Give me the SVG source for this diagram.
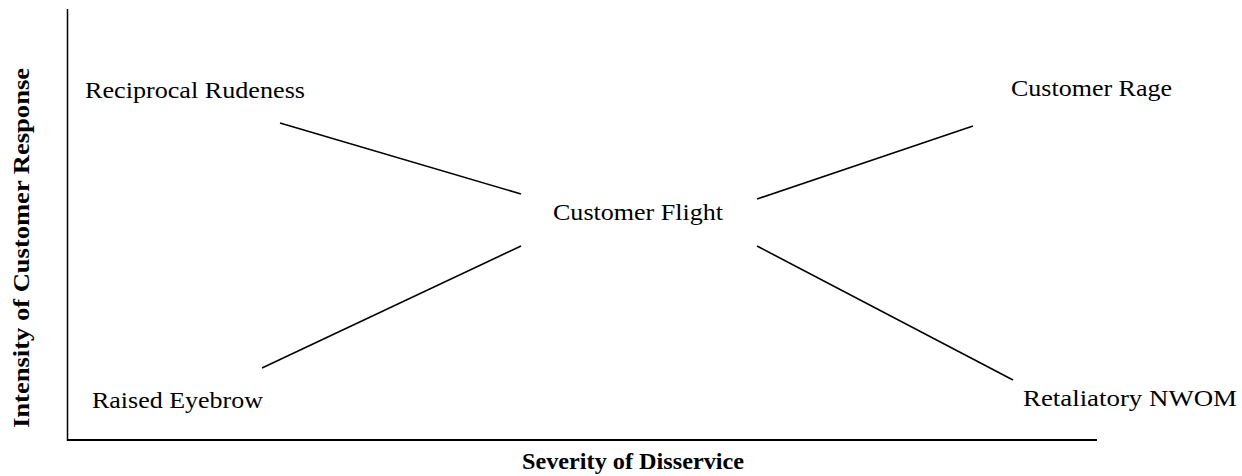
<svg xmlns="http://www.w3.org/2000/svg" width="1242" height="476" viewBox="0 0 1242 476">
<style>
.lbl{font-family:"Liberation Serif","Times New Roman",serif;font-size:23px;fill:#000}
.ax{font-family:"Liberation Serif","Times New Roman",serif;font-size:24px;font-weight:bold;fill:#000}
.conn line{stroke:#000;stroke-width:1.6;fill:none}
.axis line{stroke:#000;fill:none}
</style>
<rect width="1242" height="476" fill="#fff"/>
<g id="axes" class="axis">
<line x1="67.5" y1="9" x2="67.5" y2="441" stroke-width="1.5"/>
<line x1="67" y1="440" x2="1097" y2="440" stroke-width="2.2"/>
<text class="ax" x="522" y="469" textLength="222" lengthAdjust="spacingAndGlyphs">Severity of Disservice</text>
<text class="ax" transform="translate(29,248) rotate(-90)" text-anchor="middle" textLength="360" lengthAdjust="spacingAndGlyphs">Intensity of Customer Response</text>
</g>
<g id="connectors" class="conn">
<line x1="280" y1="123" x2="521" y2="194"/>
<line x1="262" y1="368" x2="521" y2="246"/>
<line x1="757" y1="199" x2="973" y2="126"/>
<line x1="757" y1="246" x2="1013" y2="380"/>
</g>
<g id="reciprocal-rudeness"><text class="lbl" x="85" y="98" textLength="220" lengthAdjust="spacingAndGlyphs">Reciprocal Rudeness</text></g>
<g id="raised-eyebrow"><text class="lbl" x="92" y="408" textLength="171" lengthAdjust="spacingAndGlyphs">Raised Eyebrow</text></g>
<g id="customer-flight"><text class="lbl" x="553" y="220" textLength="170" lengthAdjust="spacingAndGlyphs">Customer Flight</text></g>
<g id="customer-rage"><text class="lbl" x="1011" y="96" textLength="161" lengthAdjust="spacingAndGlyphs">Customer Rage</text></g>
<g id="retaliatory-nwom"><text class="lbl" x="1023" y="406" textLength="214" lengthAdjust="spacingAndGlyphs">Retaliatory NWOM</text></g>
</svg>
